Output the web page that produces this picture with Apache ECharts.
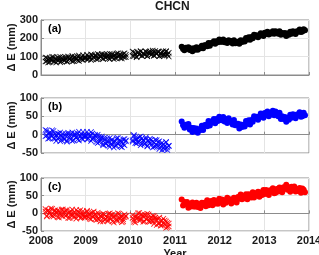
<!DOCTYPE html>
<html>
<head>
<meta charset="utf-8">
<script src="https://cdn.jsdelivr.net/npm/echarts@6/dist/echarts.min.js"></script>
<style>
html, body { margin: 0; padding: 0; background: #fff; }
#chart { width: 319px; height: 255px; }
</style>
</head>
<body>
<div id="chart"></div>
<script>
// sample times (decimal year) for the "x" marker part, 2008.1 - 2010.86
const yearsX = [
  2008.10,2008.13,2008.16,2008.19,2008.22,2008.25,2008.28,2008.31,2008.34,2008.37,
  2008.40,2008.43,2008.46,2008.49,2008.52,2008.55,2008.58,2008.61,2008.64,2008.67,
  2008.70,2008.73,2008.76,2008.79,2008.82,2008.85,2008.88,2008.91,2008.94,2008.97,
  2009.00,2009.03,2009.06,2009.09,2009.12,2009.15,2009.18,2009.21,2009.24,2009.27,
  2009.30,2009.33,2009.36,2009.39,2009.42,2009.45,2009.48,2009.51,2009.54,2009.57,
  2009.60,2009.63,2009.66,2009.69,2009.72,2009.75,2009.78,2009.81,2009.84,2009.87,
  2009.90,
  2010.05,2010.08,2010.11,2010.14,2010.17,2010.20,2010.23,2010.26,2010.29,2010.32,
  2010.35,2010.38,2010.41,2010.44,2010.47,2010.50,2010.53,2010.56,2010.59,2010.62,
  2010.65,2010.68,2010.71,2010.74,2010.77,2010.80,2010.83,2010.86
];
// sample times for the dot part, 2011.15 - 2013.91
const yearsDot = [
  2011.15,2011.18,2011.21,2011.24,2011.27,2011.30,2011.33,2011.36,2011.39,2011.42,
  2011.45,2011.48,2011.51,2011.54,2011.57,2011.60,2011.63,2011.66,2011.69,2011.72,
  2011.75,2011.78,2011.81,2011.84,2011.87,2011.90,2011.93,2011.96,2011.99,
  2012.02,2012.05,2012.08,2012.11,2012.14,2012.17,2012.20,2012.23,2012.26,2012.29,
  2012.32,2012.35,2012.38,2012.41,2012.44,2012.47,2012.50,2012.53,2012.56,2012.59,
  2012.62,2012.65,2012.68,2012.71,2012.74,2012.77,2012.80,2012.83,2012.86,2012.89,
  2012.92,2012.95,2012.98,
  2013.01,2013.04,2013.07,2013.10,2013.13,2013.16,2013.19,2013.22,2013.25,2013.28,
  2013.31,2013.34,2013.37,2013.40,2013.43,2013.46,2013.49,2013.52,2013.55,2013.58,
  2013.61,2013.64,2013.67,2013.70,2013.73,2013.76,2013.79,2013.82,2013.85,2013.88,
  2013.91
];

// (a) black, mm -- two readings per epoch for the "x" part
const aCross = [
  95,77,68,89,83,99,74,89,68,94, 81,99,74,87,79,97,72,95,90,80, 103,76,96,88,100,76,94,84,108,90,
  91,110,87,99,82,108,97,105,86,115, 92,103,109,87,112,95,104,91,116,99, 112,87,108,93,119,104,110,90,99,118, 98,
  128,102,118,97,124,111,129,104,118,110, 128,103,126,121,110,133,105,123,115,127, 102,118,107,130,112,128,110,101
];
const aCross2 = [
  74,93,85,70,90,80,98,74,88,78, 93,70,86,97,78,91,75,101,85,96, 74,92,100,85,80,106,90,99,82,96,
  97,84,102,95,112,88,94,109,102,86, 108,98,115,90,106,94,114,103,87,111, 96,107,93,117,100,111,91,106,115,97, 110,
  104,123,115,100,121,111,129,105,120,110, 126,102,119,130,111,123,107,131,115,125, 103,119,126,111,106,130,113,121
];
const aDot = [
  154,142,135,148,143,152,136,144,130,146, 138,151,138,148,146,159,146,162,162,157, 175,160,175,173,184,170,184,178,193,
  181,181,193,178,186,174,190,181,185,172, 189,173,179,181,170,189,180,188,183,202, 194,206,192,207,200,219,211,217,206,214, 228,224,213,
  230,224,236,221,231,227,239,225,238,234, 225,239,219,229,222,229,213,227,220,236, 225,238,228,223,238,236,248,234,237,250, 244
];
// (b) blue, mm
const bCross = [
  13,-2,-11,5,-1,12,-10,1,-17,3, -8,6,-15,-6,-12,2,-19,1,-3,-13, 6,-15,0,-6,3,-16,-2,-11,8,-6,
  -6,8,-11,-2,-17,3,-7,-3,-20,0, -20,-12,-9,-29,-9,-24,-19,-30,-9,-25, -14,-35,-18,-30,-9,-22,-17,-34,-26,-12, -16,
  -15,-1,-23,-13,-20,-7,-29,-10,-15,-26, -7,-30,-16,-22,-14,-35,-22,-32,-15,-30, -18,-33,-42,-26,-32,-20,-42,-31
];
const bCross2 = [
  -4,11,2,-10,5,-4,10,-11,-1,-10, 2,-18,-5,3,-13,-3,-16,5,-8,1, -17,-2,3,-9,-13,8,-5,1,-13,-1,
  -1,-13,1,-5,7,-13,-10,0,-7,-23, -6,-17,-5,-26,-14,-25,-10,-20,-33,-15, -27,-19,-30,-10,-25,-16,-32,-21,-13,-29, -18,
  -19,-4,-13,-24,-9,-19,-5,-25,-15,-24, -12,-32,-20,-11,-28,-19,-33,-14,-28,-20, -39,-26,-22,-35,-40,-21,-35,-30
];
const bDot = [
  36,26,19,27,23,29,14,19,7,18, 9,17,5,14,13,24,13,26,27,23, 37,25,36,34,43,31,43,37,49,
  40,39,48,36,42,32,45,36,38,28, 40,26,30,30,17,28,21,27,22,37, 30,39,28,40,35,50,44,49,41,48, 58,55,46,
  59,53,63,50,58,55,65,53,63,59, 50,60,43,50,43,48,35,46,41,54, 46,56,49,45,55,53,61,49,50,60, 53
];
// (c) red, mm
const cCross = [
  12,-9,9,5,-5,13,-9,6,0,8, -12,2,-7,11,-3,9,-5,-13,4,-2, 11,-10,2,-15,5,-6,9,-12,-2,-9,
  -7,7,-11,-3,-17,2,-8,-3,-19,2, -17,-8,-4,-23,-3,-17,-11,-21,0,-15, -4,-26,-9,-21,0,-13,-8,-25,-17,-3, -7,
  -5,-18,-26,-8,-12,1,-19,-7,-24,-4, -16,-1,-23,-14,-20,-7,-30,-12,-18,-29, -12,-35,-21,-28,-20,-41,-27,-37
];
const cCross2 = [
  5,-7,7,1,14,-7,-3,9,4,-11, 7,-2,11,-9,4,-7,9,0,-13,5, -7,1,-10,10,-6,3,-13,-2,6,-11,
  -11,5,-3,-15,1,-9,5,-16,-6,-15, -3,-23,-10,-1,-18,-8,-21,-1,-14,-5, -23,-10,-5,-17,-21,-1,-14,-8,-23,-11, -9,
  -13,-24,-9,-14,0,-20,-15,-3,-8,-23, -6,-15,-3,-24,-11,-22,-8,-18,-33,-15, -29,-22,-34,-15,-31,-23,-39,-29
];
const cDot = [
  39,22,32,26,32,16,26,19,31,19, 19,30,18,25,15,30,24,30,20,37, 23,31,35,23,38,28,34,27,41,
  31,39,25,37,30,44,35,40,28,33, 44,41,31,46,41,53,40,48,43,54, 40,54,52,45,60,45,57,53,61,47, 59,52,66,
  55,66,56,52,65,61,71,57,58,69, 62,73,64,60,74,71,81,67,74,61, 75,67,76,62,68,63,72,58,70,67, 60
];

const font = 'Liberation Sans, Arial, Helvetica, sans-serif';
const frame = '#8c8c8c';
const crossPath = 'path://M0,1L1,0L5,4L9,0L10,1L6,5L10,9L9,10L5,6L1,10L0,9L4,5Z';

const panels = [
  { top: 20, height: 55, min: 0, max: 300, interval: 100, cross: [aCross, aCross2], dot: aDot, color: '#000000', tag: '(a)' },
  { top: 98, height: 55, min: -50, max: 100, interval: 50, cross: [bCross, bCross2], dot: bDot, color: '#0000ff', tag: '(b)' },
  { top: 178, height: 53, min: -50, max: 100, interval: 50, cross: [cCross, cCross2], dot: cDot, color: '#ff0000', tag: '(c)' }
];

const zip = (xs, ys) => xs.map((x, i) => [x, ys[i]]);

const chart = echarts.init(document.getElementById('chart'), null, { renderer: 'canvas' });

const option = {
  animation: false,
  backgroundColor: '#ffffff',
  grid: panels.map(p => ({
    left: 41, width: 268, top: p.top, height: p.height,
    outerBoundsMode: 'none',
    show: true, borderColor: frame, borderWidth: 1, backgroundColor: 'transparent'
  })),
  xAxis: panels.map((p, i) => ({
    type: 'value', gridIndex: i, min: 2008, max: 2014, interval: 1,
    axisLine: { show: true, lineStyle: { color: frame } },
    axisTick: { show: true, inside: true, length: 3, lineStyle: { color: frame } },
    splitLine: { show: true, lineStyle: { color: '#e4e4e4', width: 1 } },
    axisLabel: {
      show: i === 2, margin: 4, color: '#1a1a1a', fontFamily: font, fontSize: 11, fontWeight: 'bold',
      formatter: v => String(v)
    },
    name: i === 2 ? 'Year' : '',
    nameLocation: 'middle', nameGap: 17, nameMoveOverlap: false,
    nameTextStyle: { color: '#1a1a1a', fontFamily: font, fontSize: 11, fontWeight: 'bold' }
  })),
  yAxis: panels.map((p, i) => ({
    type: 'value', gridIndex: i, min: p.min, max: p.max, interval: p.interval,
    axisLine: { show: true, lineStyle: { color: frame } },
    axisTick: { show: true, inside: true, length: 3, lineStyle: { color: frame } },
    splitLine: { show: true, lineStyle: { color: '#e4e4e4', width: 1 } },
    axisLabel: { margin: 3, color: '#1a1a1a', fontFamily: font, fontSize: 11, fontWeight: 'bold' },
    name: 'Δ E (mm)',
    nameLocation: 'middle', nameGap: 24, nameMoveOverlap: false,
    nameTextStyle: { color: '#1a1a1a', fontFamily: font, fontSize: 11, fontWeight: 'bold' }
  })),
  series: panels.flatMap((p, i) => [
    ...p.cross.map(vals => ({
      type: 'scatter', xAxisIndex: i, yAxisIndex: i, silent: true,
      symbol: crossPath, symbolSize: 6,
      itemStyle: { color: p.color, opacity: 0.9 },
      data: zip(yearsX, vals)
    })),
    {
      type: 'scatter', xAxisIndex: i, yAxisIndex: i, silent: true,
      symbol: 'circle', symbolSize: 6,
      itemStyle: { color: p.color, opacity: 1 },
      data: zip(yearsDot, p.dot)
    }
  ]),
  graphic: [
    {
      type: 'text', left: 155, top: 1,
      style: { text: 'CHCN', fill: '#1a1a1a', font: 'bold 12px ' + font }
    },
    ...panels.map(p => ({
      type: 'text', left: 48, top: p.top + 3,
      style: { text: p.tag, fill: '#000', font: 'bold 11px ' + font }
    }))
  ]
};

chart.setOption(option);
</script>
</body>
</html>
